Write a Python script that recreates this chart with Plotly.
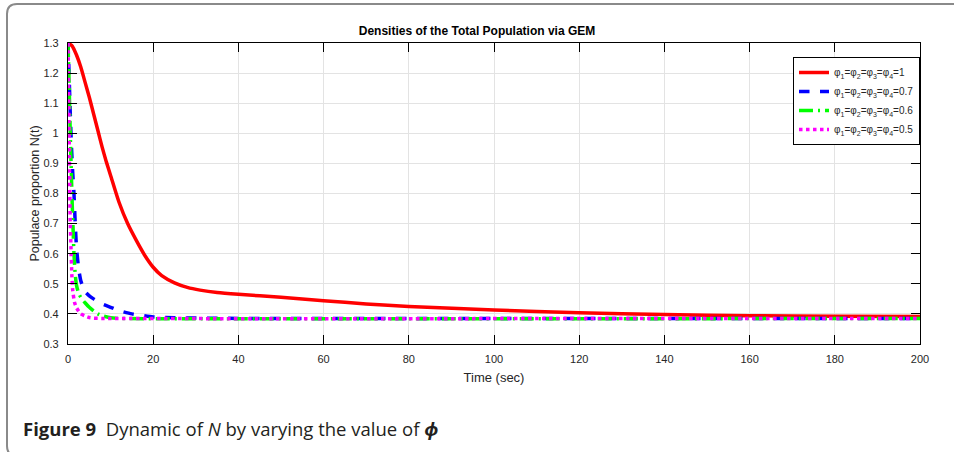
import plotly.graph_objects as go

# ---- data ----
t_red = [0, 1, 2, 3, 4, 5, 6, 7, 8, 9, 10, 12, 14, 16, 18, 20, 22, 25, 28, 31, 35, 40,
         50, 60, 70, 80, 100, 120, 140, 160, 180, 200]
n_red = [1.30, 1.29, 1.26, 1.22, 1.17, 1.12, 1.065, 1.01, 0.955, 0.905, 0.86, 0.77, 0.70,
         0.645, 0.595, 0.555, 0.527, 0.503, 0.488, 0.479, 0.471, 0.465, 0.455, 0.444, 0.433,
         0.425, 0.413, 0.404, 0.398, 0.394, 0.392, 0.391]

t_blue = [0, 0.2, 0.5, 0.8, 1.1, 1.4, 1.7, 2.0, 2.5, 3.0, 3.5, 4, 5, 6, 8, 10, 12, 15,
          20, 25, 30, 40, 200]
n_blue = [1.30, 1.22, 1.08, 0.96, 0.87, 0.80, 0.70, 0.62, 0.55, 0.51, 0.49, 0.474, 0.460,
          0.450, 0.433, 0.422, 0.411, 0.400, 0.390, 0.387, 0.386, 0.385, 0.385]

t_green = [0, 0.2, 0.4, 0.6, 0.8, 1.0, 1.2, 1.4, 1.7, 2.0, 2.5, 3, 4, 5, 6, 7, 8, 10, 12, 200]
n_green = [1.30, 1.20, 1.08, 0.96, 0.86, 0.76, 0.68, 0.60, 0.53, 0.495, 0.468, 0.455,
           0.437, 0.422, 0.410, 0.400, 0.394, 0.387, 0.385, 0.385]

t_mag = [0, 0.1, 0.2, 0.3, 0.4, 0.5, 0.7, 0.9, 1.1, 1.5, 2.0, 3, 4, 5, 6, 8, 200]
n_mag = [1.30, 1.20, 1.07, 0.95, 0.84, 0.72, 0.62, 0.53, 0.48, 0.44, 0.42, 0.40, 0.393,
         0.388, 0.386, 0.385, 0.385]

labels = [
    "φ<sub>1</sub>=φ<sub>2</sub>=φ<sub>3</sub>=φ<sub>4</sub>=1",
    "φ<sub>1</sub>=φ<sub>2</sub>=φ<sub>3</sub>=φ<sub>4</sub>=0.7",
    "φ<sub>1</sub>=φ<sub>2</sub>=φ<sub>3</sub>=φ<sub>4</sub>=0.6",
    "φ<sub>1</sub>=φ<sub>2</sub>=φ<sub>3</sub>=φ<sub>4</sub>=0.5",
]

x_ticks = list(range(0, 201, 20))
y_ticks = [0.3, 0.4, 0.5, 0.6, 0.7, 0.8, 0.9, 1.0, 1.1, 1.2, 1.3]
y_tick_text = ["0.3", "0.4", "0.5", "0.6", "0.7", "0.8", "0.9", "1", "1.1", "1.2", "1.3"]

# ---- figure ----
W, H = 954, 452
L, R, T, B = 68, 34, 43, 108
pw, ph = W - L - R, H - T - B

def px(x):
    return (x - L) / pw

def py(y):
    return (H - B - y) / ph

fig = go.Figure()
series = [
    (t_red, n_red, "#ff0000", "solid"),
    (t_blue, n_blue, "#0000ff", "dash"),
    (t_green, n_green, "#00ff00", "14px,5px,2px,5px"),
    (t_mag, n_mag, "#ff00ff", "dot"),
]
for (tx, ny, col, dash), lab in zip(series, labels):
    fig.add_trace(go.Scatter(x=tx, y=ny, mode="lines", name=lab,
                             line=dict(color=col, width=3.5, dash=dash, shape="spline",
                                       smoothing=0.5)))

axis_font = dict(family="Liberation Sans, Arial, sans-serif", size=11, color="#262626")
fig.update_layout(
    width=W, height=H,
    margin=dict(l=L, r=R, t=T, b=B),
    paper_bgcolor="white", plot_bgcolor="white",
    font=axis_font,
    title=dict(text="<b>Densities of the Total Population via GEM</b>",
               x=px(494), xanchor="center", y=1 - 31 / H, yanchor="middle",
               font=dict(family="Liberation Sans, Arial, sans-serif", size=12, color="#000")),
    xaxis=dict(range=[0, 200], tickvals=x_ticks, showgrid=True, gridcolor="#e3e3e3",
               zeroline=False, showline=True, linecolor="black", linewidth=1.2,
               mirror="ticks", ticks="inside", ticklen=9, tickcolor="black",
               ticklabelstandoff=5,
               title=dict(text="Time (sec)", standoff=8), tickfont=axis_font),
    yaxis=dict(range=[0.3, 1.3], tickvals=y_ticks, ticktext=y_tick_text, showgrid=True,
               gridcolor="#e3e3e3", zeroline=False, showline=True, linecolor="black",
               linewidth=1.2, mirror="ticks", ticks="inside", ticklen=9, tickcolor="black",
               ticklabelstandoff=6,
               title=dict(text="Populace proportion N(t)", standoff=1,
                          font=dict(family="Liberation Sans, Arial, sans-serif", size=12.5,
                                    color="#262626")),
               tickfont=axis_font),
    legend=dict(x=px(793), y=py(57), xanchor="left", yanchor="top",
                bgcolor="white", bordercolor="black", borderwidth=1,
                font=dict(family="Liberation Sans, Arial, sans-serif", size=10, color="#262626"),
                tracegroupgap=0, itemwidth=30),
    showlegend=True,
)

# figure frame (journal panel border)
fig.add_shape(type="path", xref="paper", yref="paper",
              path=(f"M {px(960)},{py(4)} L {px(17)},{py(4)} "
                    f"Q {px(7)},{py(4)} {px(7)},{py(14)} L {px(7)},{py(446)} "
                    f"Q {px(7)},{py(456)} {px(17)},{py(456)}"),
              line=dict(color="#8a8a8a", width=2))

fig.add_annotation(xref="paper", yref="paper", x=px(21), y=py(428), xanchor="left",
                   yanchor="middle", showarrow=False,
                   text="<b>Figure 9</b>  Dynamic of <i>N</i> by varying the value of <b><i>ϕ</i></b>",
                   font=dict(family="Open Sans, Noto Sans, sans-serif", size=18.5, color="#231f20"))

fig.write_html("out.html")
